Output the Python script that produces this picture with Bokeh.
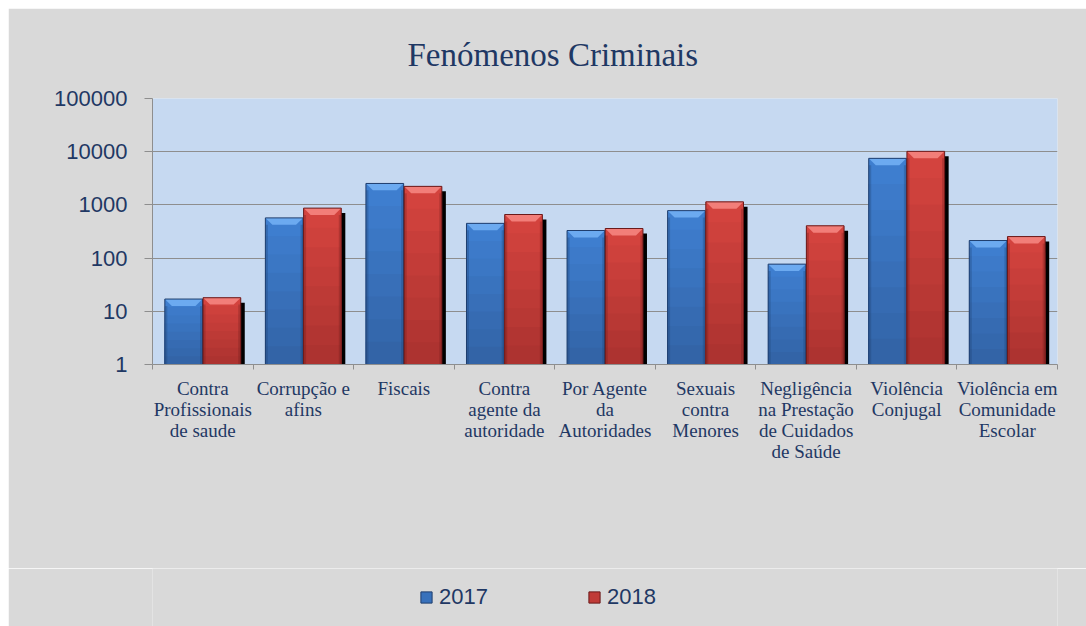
import numpy as np
from bokeh.plotting import figure
from bokeh.layouts import column
from bokeh.models import Range1d, FixedTicker, Legend, LegendItem, Title
from bokeh.embed import file_html
from bokeh.resources import INLINE

# ---- data ----
categories = [
    "Contra\nProfissionais\nde saude",
    "Corrupção e\nafins",
    "Fiscais",
    "Contra\nagente da\nautoridade",
    "Por Agente\nda\nAutoridades",
    "Sexuais\ncontra\nMenores",
    "Negligência\nna Prestação\nde Cuidados\nde Saúde",
    "Violência\nConjugal",
    "Violência em\nComunidade\nEscolar",
]
series_names = ["2017", "2018"]
v2017 = [17, 570, 2530, 450, 330, 780, 77, 7500, 214]
v2018 = [18, 870, 2230, 660, 360, 1140, 405, 10150, 254]
y_ticks = [1, 10, 100, 1000, 10000, 100000]
y_tick_labels = ["1", "10", "100", "1000", "10000", "100000"]
title_text = "Fenómenos Criminais"

NAVY = "#1F3864"
GRID = "#8E8E8E"
BG = "#D9D9D9"

p = figure(width=1078, height=560, x_range=Range1d(0, len(categories)),
           y_range=Range1d(1, 100000), y_axis_type="log",
           output_backend="svg", toolbar_location=None,
           min_border_left=144, min_border_right=29,
           min_border_top=86, min_border_bottom=204)
p.border_fill_color = BG
p.background_fill_color = "#C6D9F1"
p.outline_line_color = None

# ---- axes ----
xc = np.arange(len(categories)) + 0.5
xt = FixedTicker(ticks=list(xc), minor_ticks=list(np.arange(len(categories) + 1)))
xa = p.xaxis[0]
xa.ticker = xt
xa.major_label_overrides = {float(x): c for x, c in zip(xc, categories)}
xa.major_tick_line_color = None
xa.minor_tick_line_color = GRID
xa.minor_tick_out = 5
xa.minor_tick_in = 0
xa.axis_line_color = GRID
xa.major_label_text_font = "Liberation Serif"
xa.major_label_text_font_size = "19px"
xa.major_label_text_color = NAVY
xa.major_label_text_line_height = 1.0
xa.major_label_standoff = 7
p.xgrid.visible = False

yt = FixedTicker(ticks=y_ticks, minor_ticks=[])
ya = p.yaxis[0]
ya.ticker = yt
ya.major_label_overrides = {t: l for t, l in zip(y_ticks, y_tick_labels)}
ya.major_tick_out = 8
ya.major_tick_in = 0
ya.major_tick_line_color = GRID
ya.minor_tick_line_color = None
ya.axis_line_color = GRID
ya.major_label_text_font = "Liberation Sans"
ya.major_label_text_font_size = "22px"
ya.major_label_text_color = NAVY
ya.major_label_standoff = 17
p.ygrid.ticker = yt
p.ygrid.grid_line_color = GRID
p.ygrid.grid_line_width = 1

# ---- bars ----
W = 0.375
OFF = 0.19
SHX = 0.04
SHF = 10 ** (-5 / 54)
BEV = 10 ** (-7 / 54)
INSET = 0.07
NSEG = 8

def mix(c1, c2, t):
    a = [int(c1[i:i + 2], 16) for i in (1, 3, 5)]
    b = [int(c2[i:i + 2], 16) for i in (1, 3, 5)]
    return "#%02x%02x%02x" % tuple(int(round(x + (y - x) * t)) for x, y in zip(a, b))

styles = [
    dict(bot="#3262A4", top="#3F80D2", bevel="#6CAAF0", line="#1F3E6E"),
    dict(bot="#AA322F", top="#D6443F", bevel="#F27E79", line="#6B1A1A"),
]
series = [v2017, v2018]
for k, (vals, st) in enumerate(zip(series, styles)):
    vals = np.array(vals, dtype=float)
    cx = xc + (-OFF if k == 0 else OFF)
    left = cx - W / 2
    right = cx + W / 2
    p.quad(left=left + SHX, right=right + SHX, bottom=1, top=vals * SHF,
           fill_color="black", line_color=None)
    for j in reversed(range(NSEG)):
        t = vals ** ((j + 1) / NSEG)
        p.quad(left=left, right=right, bottom=1, top=t,
               fill_color=mix(st["bot"], st["top"], (j + 0.5) / NSEG),
               line_color=None)
    p.quad(left=left, right=left + 0.025, bottom=1, top=vals * BEV,
           fill_color=st["line"], fill_alpha=0.3, line_color=None)
    p.quad(left=right - 0.025, right=right, bottom=1, top=vals * BEV,
           fill_color=st["line"], fill_alpha=0.3, line_color=None)
    xs = [[l, rr, rr - INSET, l + INSET] for l, rr in zip(left, right)]
    ys = [[v, v, v * BEV, v * BEV] for v in vals]
    p.patches(xs=xs, ys=ys, fill_color=st["bevel"], line_color=None)
    p.quad(left=left, right=right, bottom=1, top=vals,
           fill_color=None, line_color=st["line"], line_width=1)

# ---- title ----
p.add_layout(Title(text=title_text, align="left", offset=255, standoff=52,
                   text_font="Liberation Serif", text_font_size="33px",
                   text_font_style="normal", text_color=NAVY), "above")

# ---- legend strip (continuation of the grey chart area) ----
p2 = figure(width=1078, height=58, x_range=Range1d(0, len(categories)),
            y_range=Range1d(1, 100000), y_axis_type="log",
            output_backend="svg", toolbar_location=None,
            x_axis_location=None, y_axis_location=None, min_border=0)
p2.border_fill_color = BG
p2.background_fill_color = BG
p2.outline_line_color = None
p2.grid.visible = False
swatches = []
for k, (vals, st) in enumerate(zip(series, styles)):
    cx = xc + (-OFF if k == 0 else OFF)
    swatches.append(p2.quad(left=cx - W / 2, right=cx + W / 2, bottom=1, top=vals,
                            fill_color=mix(st["bot"], st["top"], 0.5),
                            line_color=st["line"], visible=False))
legend = Legend(items=[LegendItem(label=n, renderers=[r])
                       for n, r in zip(series_names, swatches)],
                orientation="horizontal", location=(267, 16),
                glyph_width=14, glyph_height=14, label_standoff=6,
                spacing=99, padding=0, margin=0,
                inactive_fill_alpha=0,
                background_fill_alpha=0, border_line_color=None,
                label_text_font="Liberation Sans", label_text_font_size="22px",
                label_text_color=NAVY)
p2.add_layout(legend)

layout = column(p, p2, spacing=0)
layout.margin = (8, 0, 0, 8)

open("out.html", "w").write(file_html(layout, INLINE))
